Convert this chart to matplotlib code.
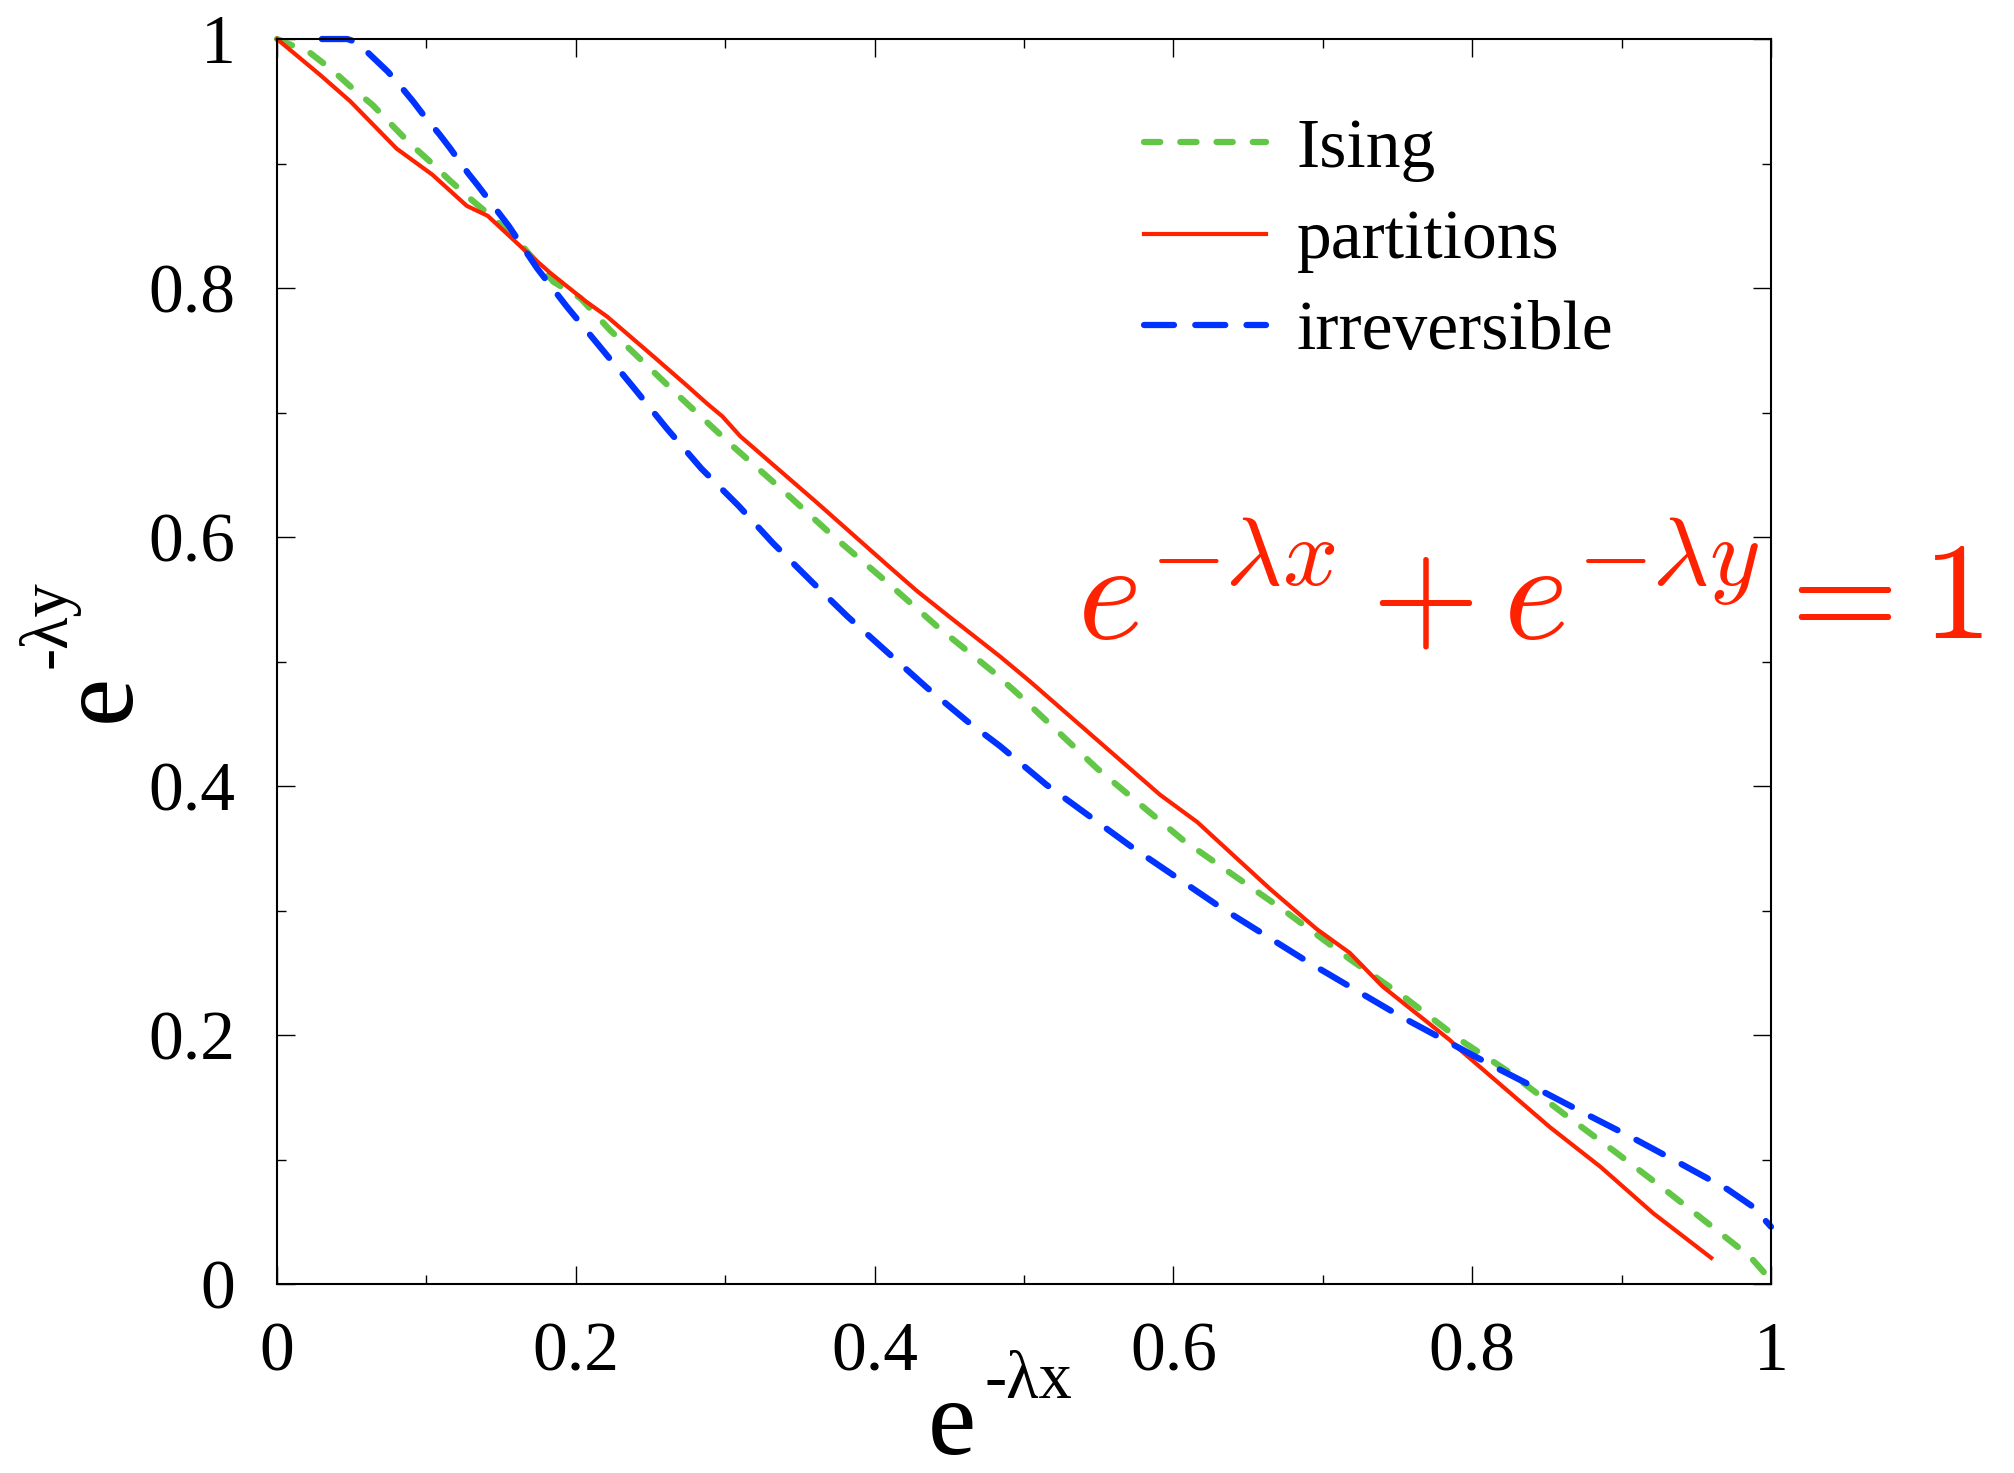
import matplotlib
matplotlib.use("Agg")
import matplotlib.pyplot as plt
from matplotlib.ticker import MultipleLocator

# curves
ising_x = [0, 0.022, 0.037, 0.049, 0.064, 0.076, 0.089, 0.102, 0.116, 0.131, 0.145, 0.161,
           0.185, 0.203, 0.223, 0.271, 0.305, 0.339, 0.372, 0.408, 0.442, 0.479, 0.495,
           0.549, 0.606, 0.673, 0.718, 0.754, 0.792, 0.825, 0.861, 0.897, 0.932, 0.966,
           0.986, 1.0]
ising_y = [1.0, 0.989, 0.975, 0.962, 0.947, 0.932, 0.916, 0.902, 0.886, 0.870, 0.856, 0.838,
           0.805, 0.792, 0.766, 0.711, 0.673, 0.637, 0.601, 0.564, 0.528, 0.492, 0.475,
           0.414, 0.357, 0.301, 0.261, 0.231, 0.196, 0.170, 0.137, 0.105, 0.073, 0.041,
           0.022, 0.003]

part_x = [0, 0.029, 0.049, 0.080, 0.104, 0.127, 0.141, 0.167, 0.183, 0.207, 0.221, 0.252,
          0.274, 0.288, 0.298, 0.310, 0.335, 0.361, 0.408, 0.428, 0.450, 0.484, 0.504,
          0.591, 0.616, 0.665, 0.696, 0.718, 0.740, 0.785, 0.792, 0.852, 0.886, 0.921, 0.960]
part_y = [1.0, 0.971, 0.950, 0.912, 0.891, 0.866, 0.858, 0.829, 0.812, 0.789, 0.777, 0.745,
          0.722, 0.707, 0.697, 0.681, 0.655, 0.628, 0.578, 0.557, 0.536, 0.504, 0.484,
          0.393, 0.371, 0.317, 0.285, 0.266, 0.239, 0.196, 0.188, 0.126, 0.094, 0.057, 0.021]

irr_x = [0.03, 0.047, 0.052, 0.060, 0.074, 0.080, 0.091, 0.098, 0.109, 0.116, 0.128, 0.134,
         0.155, 0.174, 0.194, 0.216, 0.238, 0.261, 0.284, 0.309, 0.332, 0.358, 0.382, 0.408,
         0.435, 0.462, 0.484, 0.515, 0.571, 0.631, 0.691, 0.752, 0.783, 0.814, 0.845, 0.877,
         0.908, 0.939, 0.971, 0.988, 1.0]
irr_y = [1.0, 1.0, 0.998, 0.990, 0.974, 0.966, 0.950, 0.939, 0.923, 0.912, 0.892, 0.883,
         0.850, 0.816, 0.785, 0.753, 0.721, 0.687, 0.655, 0.625, 0.595, 0.564, 0.536, 0.508,
         0.479, 0.452, 0.432, 0.401, 0.352, 0.303, 0.258, 0.215, 0.195, 0.175, 0.156, 0.136,
         0.117, 0.097, 0.076, 0.062, 0.046]

labels = ["Ising", "partitions", "irreversible"]
tick_vals = [0, 0.2, 0.4, 0.6, 0.8, 1]
tick_text = ["0", "0.2", "0.4", "0.6", "0.8", "1"]

plt.rcParams['font.family'] = ['Liberation Serif', 'DejaVu Serif']
plt.rcParams['mathtext.fontset'] = 'cm'

fig = plt.figure(figsize=(20.15, 14.73), dpi=100)
ax = fig.add_axes([0.1375, 0.1283, 0.7414, 0.8452])

ax.plot(ising_x, ising_y, color='#62C646', lw=4.5, dashes=(2.6, 3.2),
        dash_capstyle='round', label=labels[0], clip_on=False)
ax.plot(part_x, part_y, color='#FF2200', lw=3, label=labels[1], clip_on=False)
ax.plot(irr_x, irr_y, color='#0033FF', lw=4.5, dashes=(4.8, 3.4),
        dash_capstyle='round', label=labels[2], clip_on=False)

ax.set_xlim(0, 1)
ax.set_ylim(0, 1)
ax.set_xticks(tick_vals)
ax.set_xticklabels(tick_text)
ax.set_yticks(tick_vals)
ax.set_yticklabels(tick_text)
ax.xaxis.set_minor_locator(MultipleLocator(0.1))
ax.yaxis.set_minor_locator(MultipleLocator(0.1))
ax.tick_params(which='both', direction='in', top=True, right=True, labelsize=50)
ax.tick_params(which='major', length=13, width=1)
ax.tick_params(which='minor', length=6.5, width=1)
ax.tick_params(axis='x', pad=27)
ax.tick_params(axis='y', pad=30)
for s in ax.spines.values():
    s.set_linewidth(1.5)

leg = ax.legend(loc='upper left', bbox_to_anchor=(1144 / 2015, 1 - 118 / 1473),
                bbox_transform=fig.transFigure, frameon=False, fontsize=50,
                handlelength=1.75, handletextpad=0.45, labelspacing=0.4, borderpad=0,
                borderaxespad=0)

# the axis labels: a large e with a raised exponent
fig.text(952 / 2015, 1 - 1428 / 1473, "e", fontsize=78, ha='center', va='center')
fig.text(1028 / 2015, 1 - 1381 / 1473, "-λx", fontsize=48, ha='center', va='center')
fig.text(103 / 2015, 1 - 698 / 1473, "e", fontsize=78, ha='center', va='center',
         rotation=90)
fig.text(49 / 2015, 1 - 624 / 1473, "-λy", fontsize=48, ha='center', va='center',
         rotation=90)

fig.text(1077 / 2015, 1 - 639 / 1473, r'$e^{-\lambda x}+e^{-\lambda y}=1$',
         fontsize=100, color='#FF2200', ha='left', va='baseline')

fig.savefig("out.png", dpi=100)
